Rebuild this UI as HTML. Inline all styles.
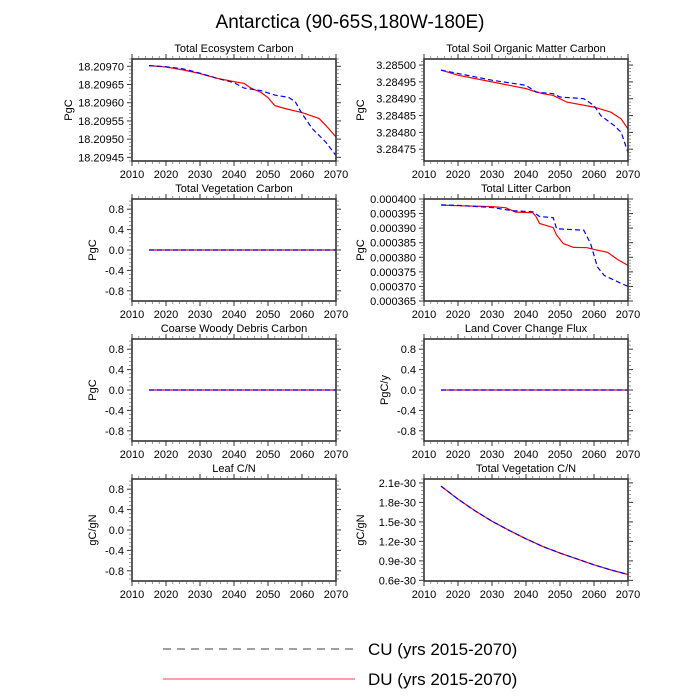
<!DOCTYPE html>
<html><head><meta charset="utf-8">
<style>
html,body{margin:0;padding:0;background:#fff;}
svg{display:block;font-family:"Liberation Sans",sans-serif;}
</style></head>
<body>
<svg id="chart" width="700" height="700" viewBox="0 0 700 700">
<text x="350" y="28" font-size="19" text-anchor="middle">Antarctica (90-65S,180W-180E)</text>
<g id="panels"></g>
<g>
<line x1="163" y1="649" x2="355" y2="649" stroke="#000" stroke-width="0.8" stroke-dasharray="8,6"/>
<text x="368" y="655" font-size="17">CU (yrs 2015-2070)</text>
<line x1="163" y1="679" x2="355" y2="679" stroke="#f00" stroke-width="0.8"/>
<text x="368" y="685" font-size="17">DU (yrs 2015-2070)</text>
</g>
</svg>
<script>
const xTicks=[2010,2020,2030,2040,2050,2060,2070];
// Panel 1: Total Ecosystem Carbon
const ecoRedYears=[2015,2020,2025,2030,2035,2040,2043,2045,2048,2050,2052,2055,2060,2065,2067,2070];
const ecoRedVals=[18.209702,18.209698,18.20969,18.20968,18.209667,18.209658,18.209653,18.20964,18.209628,18.209614,18.209592,18.209584,18.209573,18.209557,18.209538,18.209506];
const ecoBlueYears=[2015,2020,2025,2030,2035,2040,2043,2048,2052,2056,2058,2060,2063,2067,2070];
const ecoBlueVals=[18.209702,18.209699,18.209693,18.209681,18.209667,18.209655,18.20964,18.209633,18.209621,18.209615,18.209603,18.20957,18.209529,18.209492,18.209455];
const ecoTicks=[18.20945,18.20950,18.20955,18.20960,18.20965,18.20970];
// Panel 2: Total Soil Organic Matter Carbon
const soilRedYears=[2015,2020,2030,2040,2043,2045,2048,2050,2052,2060,2065,2068,2070];
const soilRedVals=[3.284985,3.28497,3.28495,3.28493,3.28492,3.284915,3.28491,3.2849,3.28489,3.284875,3.28486,3.28484,3.28481];
const soilBlueYears=[2015,2030,2040,2043,2048,2050,2057,2060,2062,2066,2068,2070];
const soilBlueVals=[3.284985,3.284955,3.28494,3.28492,3.284915,3.284905,3.2849,3.28488,3.28485,3.28482,3.2848,3.28474];
const soilTicks=[3.28475,3.28480,3.28485,3.28490,3.28495,3.28500];
// Panel 4: Total Litter Carbon (values in 1e-6 PgC)
const litRedYears=[2015,2020,2030,2034,2037,2042,2043,2044,2048,2049,2051,2054,2058,2060,2064,2067,2070];
const litRedVals=[397.9,397.7,397.4,397.0,395.5,395.3,393.9,391.6,390.2,387.6,384.7,383.4,383.3,382.7,381.7,379.2,377.2];
const litBlueYears=[2015,2020,2030,2036,2042,2044,2048,2049,2052,2057,2059,2061,2063,2066,2070];
const litBlueVals=[398.0,397.8,397.1,396.0,395.6,394.0,393.6,389.8,389.6,389.3,384.7,376.7,373.8,372.1,370.0];
const litTicks=[365,370,375,380,385,390,395,400];
// zero panels
const zeroYears=[2015,2070];
const zeroVals=[0,0];
const zeroTicks=[-0.8,-0.4,0,0.4,0.8];
// Panel 8: Total Vegetation C/N (1e-30)
const cnYears=[2015,2020,2025,2030,2035,2040,2045,2050,2055,2060,2065,2070];
const cnVals=[2.05,1.85,1.67,1.51,1.37,1.24,1.12,1.02,0.93,0.84,0.76,0.69];
const cnTicks=[0.6,0.9,1.2,1.5,1.8,2.1];

const NS='http://www.w3.org/2000/svg';
const root=document.getElementById('panels');
function mk(tag,attrs,parent){const e=document.createElementNS(NS,tag);for(const k in attrs)e.setAttribute(k,attrs[k]);parent.appendChild(e);return e;}

const panels=[
 {name:'total-ecosystem-carbon',title:'Total Ecosystem Carbon',yl:'PgC',x:132,y:59,ymin:18.20944,ymax:18.20972,ticks:ecoTicks,fmt:v=>v.toFixed(5),series:[[ecoRedYears,ecoRedVals],[ecoBlueYears,ecoBlueVals]]},
 {name:'total-soil-organic-matter-carbon',title:'Total Soil Organic Matter Carbon',yl:'PgC',x:424,y:59,ymin:3.284715,ymax:3.285018,ticks:soilTicks,fmt:v=>v.toFixed(5),series:[[soilRedYears,soilRedVals],[soilBlueYears,soilBlueVals]]},
 {name:'total-vegetation-carbon',title:'Total Vegetation Carbon',yl:'PgC',x:132,y:199,ymin:-1,ymax:1,ticks:zeroTicks,fmt:v=>v.toFixed(1),series:[[zeroYears,zeroVals],[zeroYears,zeroVals]]},
 {name:'total-litter-carbon',title:'Total Litter Carbon',yl:'PgC',x:424,y:199,ymin:365,ymax:400,ticks:litTicks,fmt:v=>(v*1e-6).toFixed(6),series:[[litRedYears,litRedVals],[litBlueYears,litBlueVals]]},
 {name:'coarse-woody-debris-carbon',title:'Coarse Woody Debris Carbon',yl:'PgC',x:132,y:339,ymin:-1,ymax:1,ticks:zeroTicks,fmt:v=>v.toFixed(1),series:[[zeroYears,zeroVals],[zeroYears,zeroVals]]},
 {name:'land-cover-change-flux',title:'Land Cover Change Flux',yl:'PgC/y',x:424,y:339,ymin:-1,ymax:1,ticks:zeroTicks,fmt:v=>v.toFixed(1),series:[[zeroYears,zeroVals],[zeroYears,zeroVals]]},
 {name:'leaf-cn',title:'Leaf C/N',yl:'gC/gN',x:132,y:479,ymin:-1,ymax:1,ticks:zeroTicks,fmt:v=>v.toFixed(1),series:[]},
 {name:'total-vegetation-cn',title:'Total Vegetation C/N',yl:'gC/gN',x:424,y:479,ymin:0.59,ymax:2.16,ticks:cnTicks,fmt:v=>v.toFixed(1)+'e-30',series:[[cnYears,cnVals],[cnYears,cnVals]]}
];
const W=204,H=102;
panels.forEach(p=>{
 const g=mk('g',{},root);
 
 
 const sx=v=>p.x+(v-2010)/60*W;
 const sy=v=>p.y+H-(v-p.ymin)/(p.ymax-p.ymin)*H;
 const t=mk('text',{x:p.x+W/2,y:p.y-7,'font-size':11,'text-anchor':'middle'},g);
 t.textContent=p.title;
 
 
 const yt=mk('text',{x:0,y:0,'font-size':11,'text-anchor':'middle',transform:`translate(${p.x-(p.fmt(p.ticks[0]).length>6?60:36)},${p.y+H/2}) rotate(-90)`},g);
 yt.textContent=p.yl;
 
 
 const colors=['#f00','#00f'];
 p.series.forEach((s,i)=>{
  const pts=s[0].map((yr,j)=>sx(yr).toFixed(1)+','+sy(s[1][j]).toFixed(1)).join(' ');
  const pl=mk('polyline',{points:pts,fill:'none',stroke:colors[i],'stroke-width':1.2},g);
  if(i==1)pl.setAttribute('stroke-dasharray','5,3');
  
  
 });
 const fr=mk('rect',{x:p.x,y:p.y,width:W,height:H,fill:'none',stroke:'#333','stroke-width':1.6},g);
 
 
 xTicks.forEach(v=>{
  const X=sx(v);
  mk('line',{x1:X,x2:X,y1:p.y+H,y2:p.y+H+5,stroke:'#333'},g);
  mk('line',{x1:X,x2:X,y1:p.y,y2:p.y-5,stroke:'#333'},g);
  const tl=mk('text',{x:X,y:p.y+H+17,'font-size':11,'text-anchor':'middle'},g);
  tl.textContent=v;
  
  
 });
 for(let v=2012;v<2070;v+=2){if(v%10==0)continue;const X=sx(v);
  mk('line',{x1:X,x2:X,y1:p.y+H,y2:p.y+H+3,stroke:'#555','stroke-width':0.6},g);
  mk('line',{x1:X,x2:X,y1:p.y,y2:p.y-3,stroke:'#555','stroke-width':0.6},g);}
 const step=p.ticks[1]-p.ticks[0];
 p.ticks.forEach(v=>{
  const Y=sy(v);
  mk('line',{x1:p.x-5,x2:p.x,y1:Y,y2:Y,stroke:'#333'},g);
  mk('line',{x1:p.x+W,x2:p.x+W+5,y1:Y,y2:Y,stroke:'#333'},g);
  const tl=mk('text',{x:p.x-8,y:Y+4,'font-size':11,'text-anchor':'end'},g);
  tl.textContent=p.fmt(v);
  
  
 });
 for(let v=p.ticks[0]-step;v<=p.ymax+1e-12;v+=step/5){
  if(v<p.ymin)continue;const Y=sy(v);
  mk('line',{x1:p.x-3,x2:p.x,y1:Y,y2:Y,stroke:'#555','stroke-width':0.6},g);
  mk('line',{x1:p.x+W,x2:p.x+W+3,y1:Y,y2:Y,stroke:'#555','stroke-width':0.6},g);
 }
});
</script>
</body></html>
